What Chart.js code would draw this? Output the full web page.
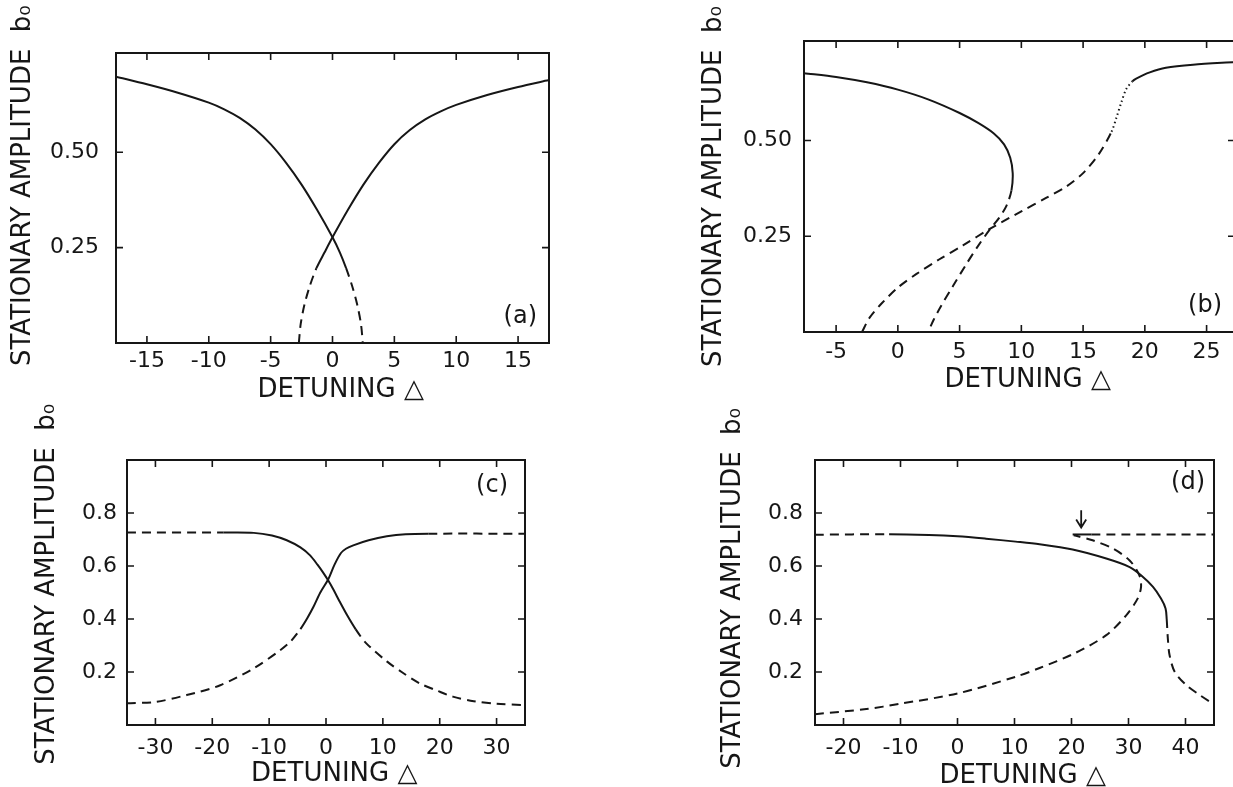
<!DOCTYPE html>
<html>
<head>
<meta charset="utf-8">
<script src="https://cdn.jsdelivr.net/npm/chart.js@4.4.1/dist/chart.umd.min.js"></script>
<style>
  html, body { margin: 0; padding: 0; background: #fff; overflow: hidden; }
  body { width: 1233px; height: 787px; position: relative; }
  canvas { position: absolute; }
</style>
</head>
<body>
<canvas id="chartA" width="616" height="420" style="left:0;top:0"></canvas>
<canvas id="chartB" width="620" height="420" style="left:620px;top:0"></canvas>
<canvas id="chartC" width="616" height="387" style="left:0;top:400px"></canvas>
<canvas id="chartD" width="613" height="390" style="left:620px;top:400px"></canvas>
<script>
// ---- panel (a) ----
const aXTicks = [-15, -10, -5, 0, 5, 10, 15];
const aYTicks = [0.25, 0.5];
const aDescSolidX = [-17.5, -15, -12.5, -10, -8.75, -7.5, -6.25, -5, -3.75, -2.5, -1.25, 0, 0.6, 1.1];
const aDescSolidY = [0.698, 0.678, 0.656, 0.63, 0.6125, 0.59, 0.56, 0.521, 0.472, 0.415, 0.349, 0.277, 0.237, 0.196];
const aDescDashX = [1.1, 1.6, 2.0, 2.3, 2.45];
const aDescDashY = [0.196, 0.148, 0.1, 0.05, 0];
const aAscDashX = [-2.72, -2.57, -2.27, -1.85, -1.3];
const aAscDashY = [0, 0.05, 0.1, 0.148, 0.196];
const aAscSolidX = [-1.3, -0.65, 0, 1.25, 2.5, 3.75, 5, 6.25, 7.5, 8.75, 10, 12.5, 15, 17.5];
const aAscSolidY = [0.196, 0.237, 0.277, 0.349, 0.415, 0.472, 0.521, 0.558, 0.586, 0.607, 0.624, 0.65, 0.671, 0.689];

// ---- panel (b) ----
const bXTicks = [-5, 0, 5, 10, 15, 20, 25];
const bYTicks = [0.25, 0.5];
const bNoseSolidX = [-7.6, -5, -2.5, 0, 2.5, 5, 6.5, 7.75, 8.6, 9.1, 9.3, 9.2];
const bNoseSolidY = [0.676, 0.666, 0.652, 0.633, 0.607, 0.572, 0.546, 0.519, 0.49, 0.455, 0.415, 0.37];
const bNoseDashX = [9.2, 8.8, 8.2, 7.5, 6.5, 5.5, 4.5, 3.5, 2.9, 2.45];
const bNoseDashY = [0.37, 0.33, 0.298, 0.27, 0.225, 0.175, 0.122, 0.068, 0.032, 0];
const bLowDashX = [-2.9, -2.3, -1.36, 0, 1.48, 3.37, 5.27, 7.48, 10, 12, 13.65, 15, 16.3, 17.3];
const bLowDashY = [0, 0.037, 0.073, 0.116, 0.151, 0.19, 0.226, 0.27, 0.315, 0.35, 0.38, 0.415, 0.466, 0.523];
const bDotX = [17.3, 17.7, 18.1, 18.5, 19.0];
const bDotY = [0.523, 0.56, 0.6, 0.635, 0.655];
const bTopSolidX = [19.0, 19.3, 20.4, 21.7, 23.9, 27.3];
const bTopSolidY = [0.655, 0.662, 0.678, 0.69, 0.698, 0.705];

// ---- panel (c) ----
const cXTicks = [-30, -20, -10, 0, 10, 20, 30];
const cYTicks = [0.2, 0.4, 0.6, 0.8];
const cDescDash1X = [-35, -18];
const cDescDash1Y = [0.726, 0.726];
const cDescSolidX = [-18, -12.7, -9.5, -6.9, -4.5, -2.8, -1.5, -0.5, 0.4, 1.2, 2.5, 3.7, 5.2];
const cDescSolidY = [0.726, 0.725, 0.715, 0.697, 0.67, 0.64, 0.605, 0.575, 0.545, 0.515, 0.462, 0.415, 0.362];
const cDescDash2X = [5.2, 7, 10.7, 13.5, 16.5, 19.5, 22.3, 26, 30, 35];
const cDescDash2Y = [0.362, 0.31, 0.24, 0.197, 0.157, 0.13, 0.107, 0.09, 0.08, 0.075];
const cAscDash1X = [-35, -30, -24.5, -18.6, -12.7, -8, -6.2, -4.5];
const cAscDash1Y = [0.082, 0.087, 0.113, 0.15, 0.214, 0.283, 0.316, 0.362];
const cAscSolidX = [-4.5, -3.3, -2.2, -1.0, 0.4, 1.5, 2.6, 3.5, 4.8, 7.5, 10.7, 14, 18];
const cAscSolidY = [0.362, 0.403, 0.446, 0.5, 0.55, 0.605, 0.648, 0.665, 0.678, 0.697, 0.712, 0.72, 0.722];
const cAscDash2X = [18, 35];
const cAscDash2Y = [0.722, 0.722];

// ---- panel (d) ----
const dXTicks = [-20, -10, 0, 10, 20, 30, 40];
const dYTicks = [0.2, 0.4, 0.6, 0.8];
const dMainDash1X = [-25, -12];
const dMainDash1Y = [0.718, 0.72];
const dMainSolidX = [-12, -5, 0, 5, 10.2, 14.4, 20.2, 26.1, 30.2, 32.2, 34.3, 35.7, 36.5, 36.7];
const dMainSolidY = [0.72, 0.717, 0.712, 0.703, 0.692, 0.682, 0.662, 0.628, 0.596, 0.565, 0.521, 0.477, 0.44, 0.4];
const dMainDash2X = [36.7, 36.9, 37.2, 38.1, 40.1, 42.5, 45];
const dMainDash2Y = [0.4, 0.327, 0.264, 0.201, 0.151, 0.113, 0.078];
const dLowDashX = [-25, -16, -10.1, 0, 10.2, 14.4, 20.5, 26.1, 29.6, 31.6, 32.2, 31.9, 30.2, 27.25, 23.7, 20.4];
const dLowDashY = [0.041, 0.06, 0.08, 0.119, 0.182, 0.215, 0.27, 0.339, 0.414, 0.477, 0.521, 0.565, 0.621, 0.666, 0.697, 0.716];
const dTopShortX = [20.2, 23.5];
const dTopShortY = [0.719, 0.719];
const dTopDashX = [23.5, 45];
const dTopDashY = [0.719, 0.719];
const dArrowX = 21.7;
const dArrowY = [0.81, 0.745];

const INK = '#161616';
const FONT = "'DejaVu Sans', 'Liberation Sans', sans-serif";
const TICK_LEN = 7;
const DASH = { solid: [], dash: [9, 6], dot: [1.5, 3] };

// one dataset per curve; pieces share their end points, the dash style is set per segment
function curve(parts) {
    const data = [], styles = [];
    parts.forEach(([xs, ys, style], k) => {
        for (let i = k === 0 ? 0 : 1; i < xs.length; i++) {
            data.push({ x: xs[i], y: ys[i] });
            if (data.length > 1) styles.push(style);
        }
    });
    return {
        data: data,
        borderColor: INK,
        borderWidth: 2,
        pointRadius: 0,
        tension: 0.3,
        fill: false,
        segment: { borderDash: ctx => DASH[styles[ctx.p0DataIndex]] },
    };
}

// box, inward tick marks on four sides, panel letter and the arrow of (d)
const frameTicks = {
    id: 'frameTicks',
    afterDraw(chart, args, o) {
        const { ctx, chartArea: a } = chart;
        const x = chart.scales.x, y = chart.scales.y;
        ctx.save();
        ctx.strokeStyle = INK;
        ctx.lineWidth = 2;
        ctx.strokeRect(a.left, a.top, a.right - a.left, a.bottom - a.top);
        ctx.lineWidth = 1.6;
        ctx.beginPath();
        x.ticks.forEach(t => {
            const px = x.getPixelForValue(t.value);
            ctx.moveTo(px, a.bottom); ctx.lineTo(px, a.bottom - TICK_LEN);
            ctx.moveTo(px, a.top); ctx.lineTo(px, a.top + TICK_LEN);
        });
        y.ticks.forEach(t => {
            const py = y.getPixelForValue(t.value);
            ctx.moveTo(a.left, py); ctx.lineTo(a.left + TICK_LEN, py);
            ctx.moveTo(a.right, py); ctx.lineTo(a.right - TICK_LEN, py);
        });
        ctx.stroke();

        ctx.fillStyle = INK;
        ctx.font = '24px ' + FONT;
        ctx.textAlign = 'right';
        ctx.textBaseline = 'middle';
        ctx.fillText(o.label, a.right - o.dx, o.fromTop ? a.top + o.dy : a.bottom - o.dy);

        if (o.arrow) {
            const ax = x.getPixelForValue(o.arrow.x);
            const y1 = y.getPixelForValue(o.arrow.from);
            const y2 = y.getPixelForValue(o.arrow.to);
            ctx.lineWidth = 1.8;
            ctx.beginPath();
            ctx.moveTo(ax, y1); ctx.lineTo(ax, y2);
            ctx.moveTo(ax - 5, y2 - 8); ctx.lineTo(ax, y2); ctx.lineTo(ax + 5, y2 - 8);
            ctx.stroke();
        }
        ctx.restore();
    }
};

function panel(id, datasets, g) {
    new Chart(document.getElementById(id), {
        type: 'line',
        data: { datasets: datasets },
        plugins: [frameTicks],
        options: {
            responsive: false,
            animation: false,
            events: [],
            layout: { padding: { left: 0, top: g.padTop, right: g.padRight, bottom: 0 } },
            plugins: {
                legend: { display: false },
                tooltip: { enabled: false },
                frameTicks: { label: g.label, dx: g.labelDx, dy: g.labelDy, fromTop: g.labelTop, arrow: g.arrow || null },
            },
            scales: {
                x: {
                    type: 'linear',
                    min: g.xr[0], max: g.xr[1],
                    afterBuildTicks: s => { s.ticks = g.xt.map(v => ({ value: v })); },
                    afterFit: s => { s.height = g.xh; },
                    grid: { display: false, drawTicks: false },
                    border: { display: false },
                    ticks: { padding: g.xpad, color: INK, font: { family: FONT, size: 22, lineHeight: 1.2 },
                             callback: v => String(v) },
                    title: { display: true, text: g.xTitle, color: INK,
                             font: { family: FONT, size: 26, lineHeight: 1 },
                             padding: { top: 0, bottom: g.xtp } },
                },
                y: {
                    type: 'linear',
                    min: g.yr[0], max: g.yr[1],
                    afterBuildTicks: s => { s.ticks = g.yt.map(v => ({ value: v })); },
                    afterFit: s => { s.width = g.yw; },
                    grid: { display: false, drawTicks: false },
                    border: { display: false },
                    ticks: { padding: g.ypad, color: INK, font: { family: FONT, size: 22, lineHeight: 1.2 },
                             callback: v => v.toFixed(g.yDec) },
                    title: { display: true, text: g.yTitle, color: INK,
                             font: { family: FONT, size: 26, lineHeight: 1 },
                             padding: { top: g.ytp, bottom: 0 } },
                },
            },
        },
    });
}

const X_TITLE = '  DETUNING \u25B3';
const Y_TITLE = 'STATIONARY AMPLITUDE  b\u2080';

panel('chartA', [
    curve([[aDescSolidX, aDescSolidY, 'solid'], [aDescDashX, aDescDashY, 'dash']]),
    curve([[aAscDashX, aAscDashY, 'dash'], [aAscSolidX, aAscSolidY, 'solid']]),
], { xr: [-17.5, 17.5], yr: [0, 0.76], xt: aXTicks, yt: aYTicks, yDec: 2,
     padTop: 53, padRight: 67, yw: 116, xh: 77, ytp: 10, ypad: 17, xpad: 5, xtp: 17,
     xTitle: X_TITLE, yTitle: '   ' + Y_TITLE, label: '(a)', labelDx: 12, labelDy: 26, labelTop: false });

panel('chartB', [
    curve([[bNoseSolidX, bNoseSolidY, 'solid'], [bNoseDashX, bNoseDashY, 'dash']]),
    curve([[bLowDashX, bLowDashY, 'dash'], [bDotX, bDotY, 'dot'], [bTopSolidX, bTopSolidY, 'solid']]),
], { xr: [-7.6, 27.3], yr: [0, 0.76], xt: bXTicks, yt: bYTicks, yDec: 2,
     padTop: 41, padRight: 5, yw: 184, xh: 88, ytp: 81, ypad: 12, xpad: 7, xtp: 27,
     xTitle: X_TITLE, yTitle: Y_TITLE, label: '(b)', labelDx: 13, labelDy: 26, labelTop: false });

panel('chartC', [
    curve([[cDescDash1X, cDescDash1Y, 'dash'], [cDescSolidX, cDescSolidY, 'solid'], [cDescDash2X, cDescDash2Y, 'dash']]),
    curve([[cAscDash1X, cAscDash1Y, 'dash'], [cAscSolidX, cAscSolidY, 'solid'], [cAscDash2X, cAscDash2Y, 'dash']]),
], { xr: [-35, 35], yr: [0, 1], xt: cXTicks, yt: cYTicks, yDec: 1,
     padTop: 60, padRight: 91, yw: 127, xh: 62, ytp: 34, ypad: 10, xpad: 10, xtp: 0,
     xTitle: X_TITLE, yTitle: '  ' + Y_TITLE, label: '(c)', labelDx: 17, labelDy: 26, labelTop: true });

panel('chartD', [
    curve([[dMainDash1X, dMainDash1Y, 'dash'], [dMainSolidX, dMainSolidY, 'solid'], [dMainDash2X, dMainDash2Y, 'dash']]),
    curve([[dLowDashX, dLowDashY, 'dash']]),
    curve([[dTopShortX, dTopShortY, 'solid'], [dTopDashX, dTopDashY, 'dash']]),
], { xr: [-25, 45], yr: [0, 1], xt: dXTicks, yt: dYTicks, yDec: 1,
     padTop: 60, padRight: 19, yw: 195, xh: 65, ytp: 100, ypad: 12, xpad: 10, xtp: 1,
     xTitle: X_TITLE, yTitle: ' ' + Y_TITLE, label: '(d)', labelDx: 9, labelDy: 23, labelTop: true,
     arrow: { x: dArrowX, from: dArrowY[0], to: dArrowY[1] } });
</script>
</body>
</html>
